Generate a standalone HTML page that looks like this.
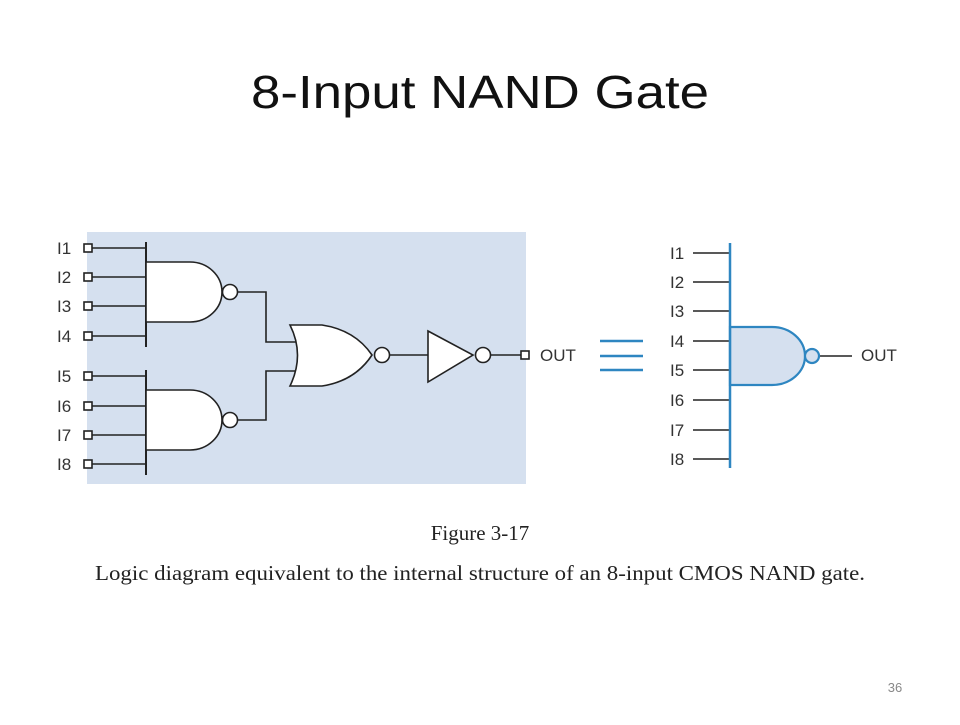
<!DOCTYPE html>
<html><head><meta charset="utf-8"><style>
body{margin:0;width:960px;height:720px;background:#fff;overflow:hidden}
</style></head><body>
<svg width="960" height="720" xmlns="http://www.w3.org/2000/svg">
<text x="480" y="108" text-anchor="middle" font-family="Liberation Sans, sans-serif" font-size="46" fill="#111" textLength="458" lengthAdjust="spacingAndGlyphs">8-Input NAND Gate</text>
<rect x="87" y="232" width="439" height="252" fill="#d5e0ef"/>
<g stroke="#222" stroke-width="1.6" fill="none">
<line x1="92" y1="248" x2="146" y2="248"/><line x1="92" y1="277" x2="146" y2="277"/>
<line x1="92" y1="306" x2="146" y2="306"/><line x1="92" y1="336" x2="146" y2="336"/>
<line x1="92" y1="376" x2="146" y2="376"/><line x1="92" y1="406" x2="146" y2="406"/>
<line x1="92" y1="435" x2="146" y2="435"/><line x1="92" y1="464" x2="146" y2="464"/>
<line x1="146" y1="242" x2="146" y2="347" stroke-width="2"/>
<line x1="146" y1="370" x2="146" y2="475" stroke-width="2"/>
<path d="M146 262 H190 A32 30 0 0 1 190 322 H146 Z" fill="#fff"/>
<path d="M146 390 H190 A32 30 0 0 1 190 450 H146 Z" fill="#fff"/>
<circle cx="230" cy="292" r="7.5" fill="#fff"/>
<circle cx="230" cy="420" r="7.5" fill="#fff"/>
<path d="M238 292 H266 V342 H296"/>
<path d="M238 420 H266 V371 H296"/>
<path d="M290 325 H322 Q355 330 372 355 Q355 381 322 386 H290 Q305 355 290 325 Z" fill="#fff"/>
<circle cx="382" cy="355" r="7.5" fill="#fff"/>
<line x1="390" y1="355" x2="428" y2="355"/>
<path d="M428 331 L473 355 L428 382 Z" fill="#fff"/>
<circle cx="483" cy="355" r="7.5" fill="#fff"/>
<line x1="491" y1="355" x2="521" y2="355"/>
</g>
<g stroke="#222" stroke-width="1.6" fill="#fff">
<rect x="84" y="244" width="8" height="8"/><rect x="84" y="273" width="8" height="8"/>
<rect x="84" y="302" width="8" height="8"/><rect x="84" y="332" width="8" height="8"/>
<rect x="84" y="372" width="8" height="8"/><rect x="84" y="402" width="8" height="8"/>
<rect x="84" y="431" width="8" height="8"/><rect x="84" y="460" width="8" height="8"/>
<rect x="521" y="351" width="8" height="8"/>
</g>
<g font-family="Liberation Sans, sans-serif" font-size="17" fill="#333">
<text x="57" y="254">I1</text><text x="57" y="283">I2</text><text x="57" y="312">I3</text><text x="57" y="342">I4</text>
<text x="57" y="382">I5</text><text x="57" y="412">I6</text><text x="57" y="441">I7</text><text x="57" y="470">I8</text>
<text x="540" y="361">OUT</text>
<text x="670" y="259">I1</text><text x="670" y="288">I2</text><text x="670" y="317">I3</text><text x="670" y="347">I4</text>
<text x="670" y="376">I5</text><text x="670" y="406">I6</text><text x="670" y="436">I7</text><text x="670" y="465">I8</text>
<text x="861" y="361">OUT</text>
</g>
<g stroke="#2e86c1" stroke-width="2.5">
<line x1="600" y1="341" x2="643" y2="341"/><line x1="600" y1="356" x2="643" y2="356"/><line x1="600" y1="370" x2="643" y2="370"/>
</g>
<g stroke="#222" stroke-width="1.6">
<line x1="693" y1="253" x2="730" y2="253"/><line x1="693" y1="282" x2="730" y2="282"/>
<line x1="693" y1="311" x2="730" y2="311"/><line x1="693" y1="341" x2="730" y2="341"/>
<line x1="693" y1="370" x2="730" y2="370"/><line x1="693" y1="400" x2="730" y2="400"/>
<line x1="693" y1="430" x2="730" y2="430"/><line x1="693" y1="459" x2="730" y2="459"/>
<line x1="820" y1="356" x2="852" y2="356"/>
</g>
<path d="M730 327 H772 A33 29 0 0 1 772 385 H730 Z" fill="#d5e0ef" stroke="#2e86c1" stroke-width="2.2"/>
<line x1="730" y1="243" x2="730" y2="468" stroke="#2e86c1" stroke-width="2.5"/>
<circle cx="812" cy="356" r="7" fill="#d5e0ef" stroke="#2e86c1" stroke-width="2.2"/>
<text x="480" y="540" text-anchor="middle" font-family="Liberation Serif, serif" font-size="21" fill="#222">Figure 3-17</text>
<text x="480" y="580" text-anchor="middle" font-family="Liberation Serif, serif" font-size="21.5" fill="#222" textLength="770" lengthAdjust="spacingAndGlyphs">Logic diagram equivalent to the internal structure of an 8-input CMOS NAND gate.</text>
<text x="895" y="692" text-anchor="middle" font-family="Liberation Sans, sans-serif" font-size="13" fill="#888">36</text>
</svg>
</body></html>
